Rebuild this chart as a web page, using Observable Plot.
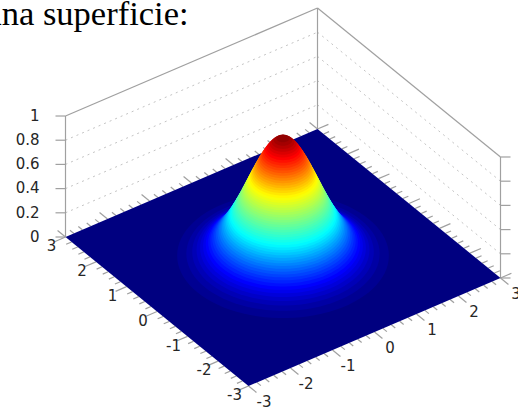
<!DOCTYPE html>
<html><head><meta charset="utf-8">
<script src="https://cdn.jsdelivr.net/npm/d3@7"></script>
<script src="https://cdn.jsdelivr.net/npm/@observablehq/plot@0.6"></script>
<style>html,body{margin:0;padding:0;background:#fff}svg{display:block}</style>
</head><body><div id="chart"></div>
<script>
// axis values
const xyLabels = [-3,-2,-1,0,1,2,3];
const xyMinor = [-2.8,-2.6,-2.4,-2.2,-1.8,-1.6,-1.4,-1.2,-0.8,-0.6,-0.4,-0.2,0.2,0.4,0.6,0.8,1.2,1.4,1.6,1.8,2.2,2.4,2.6,2.8];
const zTicks = [0,0.2,0.4,0.6,0.8,1];
const titleText = "una superficie:";
// surface: height of each colour band and the radius of its contour
const bandZ = [0,1,2,3,4,5,6,7,8,9,10,11,12,13,14,15,16,17,18,19,20,21,22,23,24,25,26,27,28,29,30,31,32,33,34,35,36,37,38,39,40,41,42,43,44,45,46,47,48,49,50,51,52,53,54,55,56,57,58,59,60,61,62,63].map(k => k/64);
const bandRadius = [3.2,2.039,1.862,1.749,1.665,1.597,1.539,1.488,1.442,1.401,1.362,1.327,1.294,1.263,1.233,1.204,1.177,1.151,1.126,1.102,1.079,1.056,1.033,1.012,.990,.970,.949,.929,.909,.890,.870,.851,.833,.814,.795,.777,.759,.740,.722,.704,.686,.667,.649,.631,.612,.593,.575,.556,.536,.517,.497,.477,.456,.434,.412,.389,.365,.340,.314,.285,.254,.219,.178,.126];
const jetStops = [0,0.11,0.35,0.65,0.89,1];
const jetColors = ["#000080","#0000ff","#00ffff","#ffff00","#ff0000","#800000"];

// orthographic view of the box
const U = (x,y) => 42*x - 30.5*y;
const V = (x,y,z=0) => 18*x + 24.83*y + 121*z;
const P = (x,y,z=0) => ({u:U(x,y), v:V(x,y,z)});
const seg = (a,b) => ({u1:a.u,v1:a.v,u2:b.u,v2:b.v});

// walls
const frame = [
  seg(P(-3,3,0),P(-3,3,1)), seg(P(3,3,0),P(3,3,1)), seg(P(3,-3,0),P(3,-3,1)),
  seg(P(-3,3,1),P(3,3,1)), seg(P(3,3,1),P(3,-3,1))
];
const grid = zTicks.filter(z=>z>0&&z<1).flatMap(z=>[seg(P(-3,3,z),P(3,3,z)),seg(P(3,3,z),P(3,-3,z))]);
const zTickSegs = zTicks.flatMap(z=>[
  seg(P(-3,3,z),{u:U(-3,3)-10,v:V(-3,3,z)}),
  seg(P(3,-3,z),{u:U(3,-3)+10,v:V(3,-3,z)})
]);
// floor ticks on the four edges, pointing outwards
const tickSet = (t,len)=>[
  seg(P(-3,t),P(-3-len,t)), seg(P(3,t),P(3+len,t)),
  seg(P(t,-3),P(t,-3-len)), seg(P(t,3),P(t,3+len))
];
const floorTicks = [...xyLabels.flatMap(t=>tickSet(t,0.26)), ...xyMinor.flatMap(t=>tickSet(t,0.13))];

// floor square + stacked contour discs, low to high
const corners = [[-3,-3],[3,-3],[3,3],[-3,3],[-3,-3]];
const floor = corners.map(([x,y])=>({...P(x,y),z:0,id:-1}));
const angles = d3.range(0,361,4).map(d=>d*Math.PI/180);
const discs = bandRadius.slice(1).flatMap((r,i)=>angles.map(a=>({...P(r*Math.cos(a),r*Math.sin(a),bandZ[i+1]),z:bandZ[i+1],id:i})));

const txt = {fontFamily:"DejaVu Sans",fontSize:15,fill:"#262626",stroke:"none"};
const chart = Plot.plot({
  width:518,height:409,margin:0,
  x:{domain:[-282.5,235.5],range:[0,518],axis:null},
  y:{domain:[-152,257],range:[409,0],axis:null},
  color:{type:"linear",domain:jetStops,range:jetColors,interpolate:"rgb"},
  style:{background:"#fff"},
  marks:[
    Plot.link(grid,{x1:"u1",y1:"v1",x2:"u2",y2:"v2",stroke:"#c4c4c4",strokeWidth:1,strokeDasharray:"2,4"}),
    Plot.link(frame,{x1:"u1",y1:"v1",x2:"u2",y2:"v2",stroke:"#a0a0a0",strokeWidth:1.2}),
    Plot.link(zTickSegs,{x1:"u1",y1:"v1",x2:"u2",y2:"v2",stroke:"#a0a0a0",strokeWidth:1.2}),
    Plot.link(floorTicks,{x1:"u1",y1:"v1",x2:"u2",y2:"v2",stroke:"#a0a0a0",strokeWidth:1.2}),
    Plot.line(floor,{x:"u",y:"v",z:"id",fill:"z",stroke:"none",curve:"linear"}),
    Plot.line(discs,{x:"u",y:"v",z:"id",fill:"z",stroke:"none",curve:"linear"}),
    Plot.text(xyLabels,{x:t=>U(t,-3),y:t=>V(t,-3),text:t=>String(t),dx:15.5,dy:16.5,...txt}),
    Plot.text(xyLabels,{x:t=>U(-3,t),y:t=>V(-3,t),text:t=>String(t),dx:-14,dy:9.5,...txt}),
    Plot.text(zTicks,{x:()=>U(-3,3),y:z=>V(-3,3,z),text:z=>String(z),dx:-26,textAnchor:"end",...txt}),
    Plot.text([titleText],{frameAnchor:"top-left",dx:-16,dy:0,lineAnchor:"top",textAnchor:"start",fontFamily:"Liberation Serif",fontSize:34.5,fill:"#000",stroke:"none"})
  ]
});
document.getElementById("chart").append(chart);
</script></body></html>
